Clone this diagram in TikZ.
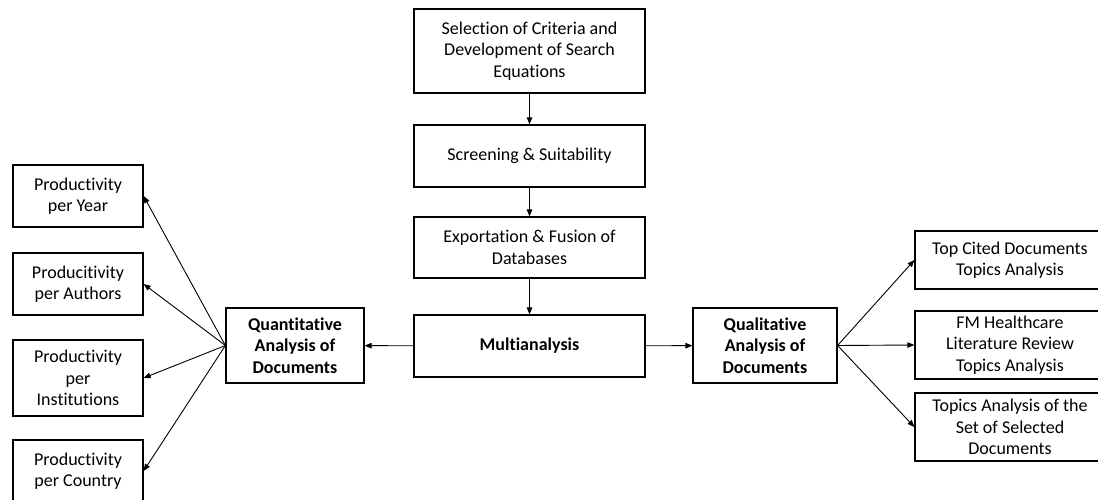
\documentclass[tikz,border=0pt]{standalone}
\usepackage{fontspec}
\setmainfont[Ligatures=NoCommon]{Carlito}
\usetikzlibrary{arrows.meta}
\begin{document}
\begin{tikzpicture}[x=1pt, y=-1pt,
  blk/.style={draw, line width=1.2pt, align=center, inner sep=2pt,
    font=\fontsize{18}{21.5}\selectfont},
  arr/.style={-{Triangle[length=7pt,width=5.5pt]}, line width=0.9pt}]
\useasboundingbox (0,0) rectangle (1098,500);
\clip (0,0) rectangle (1098,500);
% central column
\node[blk, minimum width=231pt, minimum height=84pt] (sel) at (529.5,51) {Selection of Criteria and\\Development of Search\\Equations};
\node[blk, minimum width=231pt, minimum height=62pt] (scr) at (529.5,156) {Screening \& Suitability};
\node[blk, minimum width=231pt, minimum height=61pt] (exp) at (529.5,247.5) {Exportation \& Fusion of\\Databases};
\node[blk, minimum width=231pt, minimum height=62pt] (multi) at (529.5,346) {\textbf{Multianalysis}};
% quantitative branch
\node[blk, minimum width=138pt, minimum height=75pt] (quant) at (295,345.5) {\textbf{Quantitative}\\\textbf{Analysis of}\\\textbf{Documents}};
\node[blk, minimum width=130pt, minimum height=62pt] (year) at (78,196) {Productivity\\per Year};
\node[blk, minimum width=130pt, minimum height=62pt] (auth) at (78,284) {Producitivity\\per Authors};
\node[blk, minimum width=130pt, minimum height=76pt] (inst) at (78,378) {Productivity\\per\\Institutions};
\node[blk, minimum width=130pt, minimum height=62pt] (ctry) at (78,471) {Productivity\\per Country};
% qualitative branch
\node[blk, minimum width=144pt, minimum height=75pt] (qual) at (765,345.5) {\textbf{Qualitative}\\\textbf{Analysis of}\\\textbf{Documents}};
\node[blk, minimum width=190pt, minimum height=58pt] (cited) at (1010,260) {Top Cited Documents\\Topics Analysis};
\node[blk, minimum width=190pt, minimum height=68pt] (fmhc) at (1010,345) {FM Healthcare\\Literature Review\\Topics Analysis};
\node[blk, minimum width=190pt, minimum height=68pt] (sets) at (1010,427) {Topics Analysis of the\\Set of Selected\\Documents};
% connectors
\draw[arr] (sel) -- (scr);
\draw[arr] (scr) -- (exp);
\draw[arr] (exp) -- (multi);
\draw[arr] (multi) -- (quant);
\draw[arr] (multi) -- (qual);
\foreach \n in {year,auth,inst,ctry}
  \draw[arr] (quant.west) -- (\n.east);
\foreach \n in {cited,fmhc,sets}
  \draw[arr] (qual.east) -- (\n.west);
\end{tikzpicture}
\end{document}
